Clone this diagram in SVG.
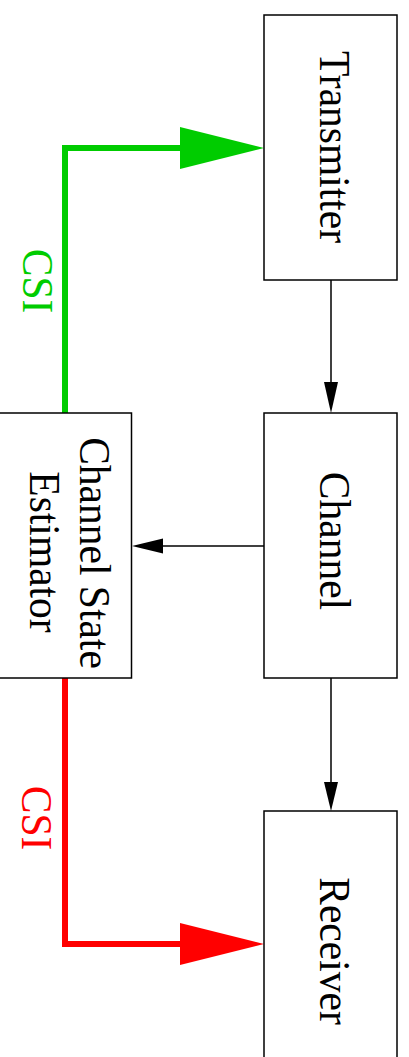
<svg xmlns="http://www.w3.org/2000/svg" width="409" height="1057" viewBox="0 0 409 1057">
<style>
.box{fill:#fff;stroke:#000;stroke-width:1.5}
.lbl{font-family:"Liberation Serif",serif;font-size:41.5px;text-anchor:middle}
.con{fill:none;stroke:#000;stroke-width:1.5}
</style>
<rect width="409" height="1057" fill="#fff"/>
<g id="connectors">
<line class="con" x1="331" y1="280" x2="331" y2="385"/>
<polygon points="324,382 338,382 331,413" fill="#000"/>
<line class="con" x1="264" y1="546" x2="160" y2="546"/>
<polygon points="163,538.5 163,553.5 132,546" fill="#000"/>
<line class="con" x1="331" y1="678" x2="331" y2="785"/>
<polygon points="324,782 338,782 331,811" fill="#000"/>
<path d="M65,413 V148 H182" fill="none" stroke="#00cc00" stroke-width="6"/>
<polygon points="180,127 264,148 180,169" fill="#00cc00"/>
<text class="lbl" fill="#00cc00" transform="translate(23,281) rotate(90) scale(1,1.08)">CSI</text>
<path d="M65,678 V944 H182" fill="none" stroke="#ff0000" stroke-width="6"/>
<polygon points="180,923 264,944 180,965" fill="#ff0000"/>
<text class="lbl" fill="#ff0000" transform="translate(22,818) rotate(90) scale(1,1.08)">CSI</text>
</g>
<g id="transmitter">
<rect class="box" x="264" y="15" width="133" height="265"/>
<text class="lbl" transform="translate(320,147) rotate(90) scale(1,1.08)">Transmitter</text>
</g>
<g id="channel">
<rect class="box" x="264" y="413" width="133" height="265"/>
<text class="lbl" transform="translate(320,541) rotate(90) scale(1,1.08)">Channel</text>
</g>
<g id="estimator">
<rect class="box" x="-2" y="413" width="133.5" height="265"/>
<text class="lbl" transform="translate(80,553) rotate(90) scale(1,1.08)">Channel State</text>
<text class="lbl" transform="translate(30,552) rotate(90) scale(1,1.08)">Estimator</text>
</g>
<g id="receiver">
<rect class="box" x="264" y="811" width="133" height="260"/>
<text class="lbl" transform="translate(320,951) rotate(90) scale(1,1.08)">Receiver</text>
</g>
</svg>
